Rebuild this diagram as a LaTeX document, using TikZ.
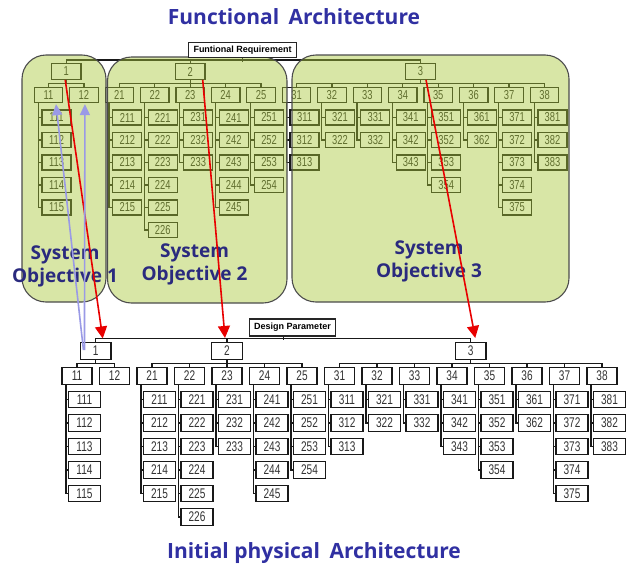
\documentclass[tikz,border=0pt]{standalone}
\usepackage{fontspec}
\setmainfont{Open Sans}
\newfontfamily\numf[FakeStretch=0.72]{Liberation Sans}
\newfontfamily\labf{Liberation Sans}
\usetikzlibrary{arrows.meta}
\definecolor{panelc}{HTML}{A9C83A}
\definecolor{navyc}{HTML}{2A2A7E}
\definecolor{titlec}{HTML}{3030A2}
\definecolor{lavc}{HTML}{9A9AE6}
\definecolor{redc}{HTML}{E80000}

\newcommand\hier[9]{%
  \foreach \rr/\ff in {1/0.5,2/4,3/10.5}
    \node[#1root] (#1\rr) at ({#2+\ff*#3},#4) {\rr};
  \draw[#1line] (#11.north) -- ++(0,-3.25) -| (#13.north);
  \draw[#1line] (#12.north) -- ++(0,-3.25);
  \foreach \k/\lab/\nn/\rr in {0/11/5/1,1/12/0/1,2/21/5/2,3/22/6/2,4/23/3/2,5/24/5/2,6/25/4/2,7/31/3/3,8/32/2/3,9/33/2/3,10/34/3/3,11/35/4/3,12/36/2/3,13/37/5/3,14/38/3/3}{%
    \node[#1lvl] (#1\lab) at ({#2+\k*#3},#5) {\lab};
    \draw[#1line] (#1\rr.south) -- ++(0,3.75) -| (#1\lab.north);
    \ifnum\nn>0
      \foreach \j in {1,...,\nn}{%
        \node[#1kid] (#1\lab\j) at ({#2+\k*#3+#8},{#6+(\j-1)*#7}) {\lab\j};
        \draw[#1line] ([xshift=#9pt]#1\lab.south west) |- (#1\lab\j.west);
      }%
    \fi
  }%
}

\begin{document}
\begin{tikzpicture}[x=1pt,y=-1pt,
  tb/.style={draw=black!90, fill=white, line width=1.2pt, text=black!85, inner sep=0pt,
     font=\numf\fontsize{13}{13}\selectfont},
  Troot/.style={tb, minimum width=29.5pt, minimum height=15.5pt},
  Tlvl/.style={tb, minimum width=28.5pt, minimum height=15pt},
  Tkid/.style={tb, minimum width=29pt, minimum height=15pt},
  Tline/.style={draw=black!90, line width=1.2pt},
  bb/.style={draw=black!90, fill=white, line width=1.1pt, text=black!80, inner sep=0pt,
     font=\numf\fontsize{14}{14}\selectfont},
  Broot/.style={bb, minimum width=30.5pt, minimum height=17pt},
  Blvl/.style={bb, minimum width=30pt, minimum height=16.5pt},
  Bkid/.style={bb, minimum width=32pt, minimum height=16.5pt},
  Bline/.style={draw=black!90, line width=1.1pt},
  panel/.style={fill=panelc, fill opacity=0.45, draw=black!70, draw opacity=1, line width=1.1pt, rounded corners=24pt},
  lab/.style={draw=black!85, fill=white, line width=1.2pt, inner xsep=5pt, inner ysep=0pt,
     font=\labf\bfseries\fontsize{9}{9}\selectfont},
  obj/.style={align=center, text=navyc, font=\bfseries\fontsize{19}{23}\selectfont},
  ttl/.style={text=titlec, font=\bfseries\fontsize{21}{21}\selectfont},
  redarr/.style={draw=redc, line width=1.6pt, -{Triangle[length=12pt,width=12pt]}},
  lavarr/.style={draw=lavc, line width=1.6pt, -{Triangle[length=11pt,width=10pt]}}
]
\fill[white] (0,0) rectangle (631,568);
\useasboundingbox (0,0) rectangle (631,568);

% functional tree (under translucent panels)
\hier{T}{48.5}{35.43}{71.5}{95}{117.5}{22.5}{8}{4.5}
\node[lab, minimum height=14.5pt] (FR) at (242.5,50) {Funtional Requirement};
\draw[Tline] (FR.south) -- ++(0,3.75);

% panels
\draw[panel] (22,55) rectangle (106,302);
\draw[panel] (107.5,57) rectangle (287,303);
\draw[panel] (292,55) rectangle (569,302);
\node[lab, minimum height=14.5pt] at (FR) {Funtional Requirement};

% physical tree
\hier{B}{77}{37.5}{351}{376}{399.5}{23.5}{7.5}{4.5}
\node[lab, minimum height=17pt] (DP) at (292.5,327.5) {Design Parameter};
\draw[Bline] ([xshift=-9pt]DP.south) -- ++(0,3.5);

% objective texts
\node[obj] (so1) at (65,266) {System\\Objective 1};
\node[obj] (so2) at (194.5,264) {System\\Objective 2};
\node[obj] (so3) at (429,261) {System\\Objective 3};

% arrows
\draw[redarr] ([xshift=-1pt]T1.south) -- ([xshift=7pt,yshift=3.5pt]B1.north);
\draw[redarr] ([xshift=12.5pt]T2.south) -- ([xshift=-2pt,yshift=4pt]B2.north);
\draw[redarr] ([xshift=5.5pt]T3.south) -- ([xshift=4.5pt,yshift=4pt]B3.north);
\draw[lavarr] ([xshift=3.5pt,yshift=1pt]B1.west) -- ([xshift=7.5pt,yshift=-1pt]T11.south);
\draw[lavarr] ([xshift=4.5pt,yshift=1pt]B1.west) -- ([xshift=1pt,yshift=-1pt]T12.south);

% titles
\node[ttl] (t1) at (294,17) {Functional\hspace{4pt} Architecture};
\node[ttl] (t2) at (314,553) {Initial physical\hspace{4pt} Architecture};
\end{tikzpicture}
\end{document}
